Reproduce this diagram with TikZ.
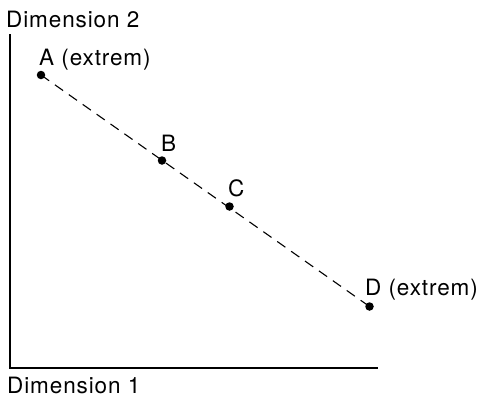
\documentclass[tikz,border=0pt]{standalone}
\usepackage{fontspec}
\setmainfont{TeX Gyre Heros}[LetterSpace=4]
\begin{document}
\begin{tikzpicture}[x=1pt,y=-1pt,
  dot/.style={circle,fill=black,inner sep=0pt,minimum size=8.5pt},
  lbl/.style={anchor=base west,inner sep=0pt,font=\fontsize{22.5}{26}\selectfont},
  axis/.style={line width=1.1pt},
  conn/.style={line width=1.1pt,dash pattern=on 10pt off 7pt}]
\useasboundingbox (0,0) rectangle (480,399);
\coordinate (top) at (10,34);
\coordinate (origin) at (10,368);
\coordinate (right) at (378,368);
\draw[axis] (top) -- (origin) -- (right);
\node[lbl] (dim2) at (6,27) {Dimension 2};
\node[lbl] (dim1) at (7,393) {Dimension 1};
\node[dot] (A) at (41,75) {};
\node[dot] (B) at (162,160.5) {};
\node[dot] (C) at (229.5,206.5) {};
\node[dot] (D) at (369.5,306.5) {};
\draw[conn] (A.center) -- (D.center);
\node[lbl] (la) at (39,65) {A (extrem)};
\node[lbl] (lb) at (161,151.5) {B};
\node[lbl] (lc) at (228,196.5) {C};
\node[lbl] (ld) at (365,295) {D (extrem)};
\end{tikzpicture}
\end{document}
